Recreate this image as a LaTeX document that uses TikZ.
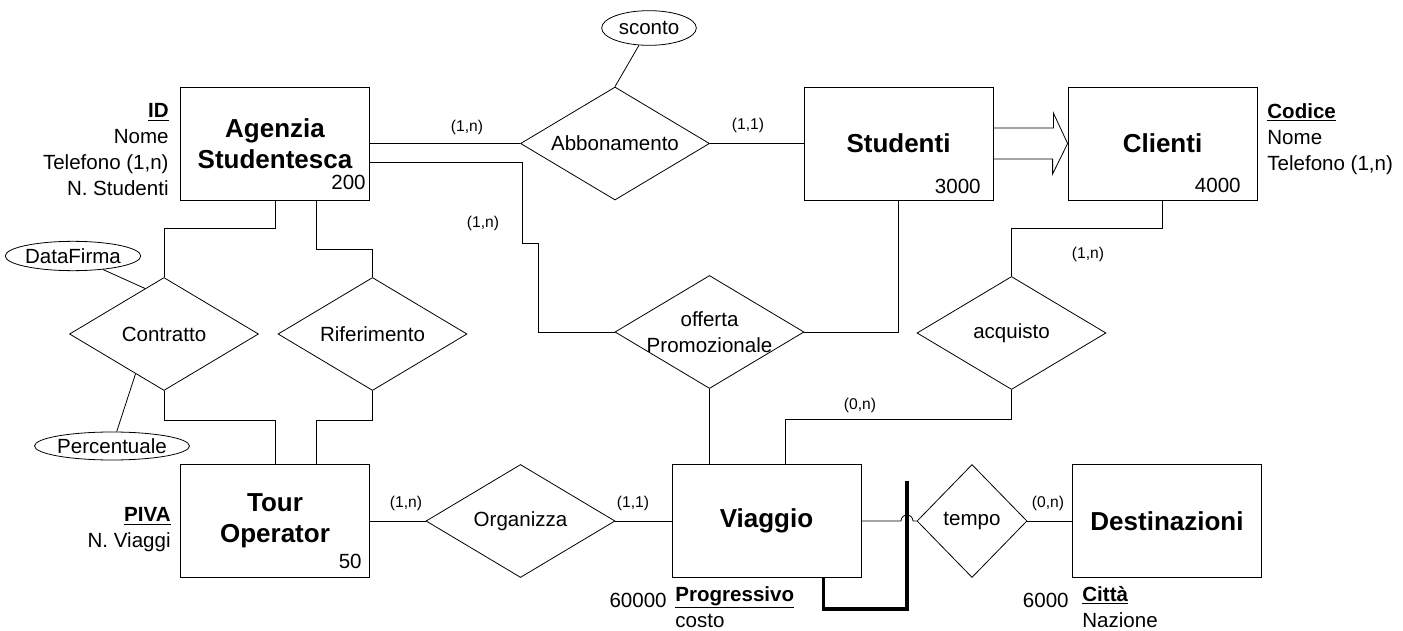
\documentclass[tikz,border=0pt]{standalone}
\usepackage{fontspec}
\setmainfont{Liberation Sans}
\usetikzlibrary{shapes.geometric,calc}

\begin{document}
\begin{tikzpicture}[x=0.75pt,y=0.75pt,yscale=-1,xscale=1,line width=0.6pt,
  entity/.style={draw, rectangle, minimum width=141.75pt, minimum height=84.75pt, inner sep=0pt, align=center, font=\fontsize{19.5}{23.5}\selectfont\bfseries},
  rel/.style={draw, diamond, aspect=1.7, minimum width=141.75pt, minimum height=84.75pt, inner sep=0pt, align=center, font=\fontsize{15.4}{19}\selectfont},
  attr/.style={draw, ellipse, inner sep=0pt, font=\fontsize{15.4}{19}\selectfont},
  txt/.style={inner sep=0pt, font=\fontsize{15.4}{19.5}\selectfont},
  card/.style={inner sep=0pt, font=\fontsize{11.7}{14}\selectfont}]
\useasboundingbox (0,0) rectangle (1403,631);

%Shape: Entities
\node[entity] (agz) at (275,143.5) {Agenzia\\Studentesca};
\node[entity] (stu) at (898.5,143.5) {Studenti};
\node[entity] (cli) at (1162.5,143.5) {Clienti};
\node[entity] (tour) at (275,521) {Tour\\Operator};
\node[entity] (via) at (766.5,521) {Viaggio};
\node[entity] (des) at (1167,521) {Destinazioni};

%Shape: Relationships
\node[rel] (abb) at (615,143.5) {Abbonamento};
\node[rel] (con) at (164,334) {Contratto};
\node[rel] (rif) at (372.5,334) {Riferimento};
\node[rel, label={[txt, align=center]center:offerta\\Promozionale}] (off) at (709.5,332) {};
\node[rel] (acq) at (1011.5,333) {acquisto};
\node[rel] (org) at (520.5,521) {Organizza};
\node[rel, minimum width=82.5pt] (tem) at (972,521) {tempo};

%Shape: Attributes of relationships
\node[attr, minimum width=71pt, minimum height=26pt] (sco) at (649,28) {sconto};
\node[attr, minimum width=95pt, minimum height=22pt] (dat) at (73,256) {DataFirma};
\node[attr, minimum width=114pt, minimum height=21pt] (per) at (112,446) {Percentuale};

%Straight Lines
\draw (agz.east) -- (abb.west) ;
\draw (abb.east) -- (stu.west) ;
\draw (sco) -- (abb.north) ;
\draw ($(agz.east)+(0,19)$) -- ++(152,0) -- ++(0,81) -- ++(16,0) |- (off.west) ;
\draw (off.east) -| (stu.south) ;
\draw (off.south) -- (off.south |- via.north) ;
\draw (agz.south) -- ++(0,28) -| (con.north) ;
\draw ($(agz.south)+(41,0)$) -- ++(0,49) -| (rif.north) ;
\draw (con.south) -- ++(0,29) -| (tour.north) ;
\draw (rif.south) -- ++(0,29) -| ($(tour.north)+(41,0)$) ;
\draw (dat) -- ($(con.north)!0.2!(con.west)$) ;
\draw ($(con.south)!0.3!(con.west)$) -- (per) ;
\draw (tour.east) -- (org.west) ;
\draw (org.east) -- (via.west) ;
\draw (cli.south) -- ++(0,28) -| (acq.north) ;
\draw (acq.south) -- ++(0,29) -| ($(via.north)+(19,0)$) ;
\draw (via.east) -- (901,521) arc[start angle=180, end angle=360, radius=6] -- (tem.west) ;
\draw (tem.east) -- (des.west) ;
%Shape: Generalization arrow
\draw ($(stu.east)+(0,-15.5)$) -- ++(60,0) -- ++(0,-15) -- (cli.west) -- ++(-15,30.5) -- ++(0,-15) -- ($(stu.east)+(0,15.5)$) ;
%Thick Line
\draw [line width=2.4pt] ($(via.south east)+(-38,0)$) -- ++(0,31) -| (907,481) ;

% Text Node
\node[txt, align=right, anchor=east] (agzatt) at (169,150) {\underline{\textbf{ID}}\\Nome\\Telefono (1,n)\\N. Studenti};
% Text Node
\node[txt, align=left, anchor=west] (cliatt) at (1267,139) {\underline{\textbf{Codice}}\\Nome\\Telefono (1,n)};
% Text Node
\node[txt, align=right, anchor=east] (touratt) at (171,530) {\underline{\textbf{PIVA}}\\N. Viaggi};
% Text Node
\node[txt, align=left, anchor=west] (viaatt) at (675,607) {\underline{\textbf{Progressivo}}\\costo};
% Text Node
\node[txt, align=left, anchor=west] (desatt) at (1082,607) {\underline{\textbf{Città}}\\Nazione};
% Text Node
\node[txt, anchor=base east] (n200) at (366,190) {200};
\node[txt, anchor=base east] (n3000) at (981,194) {3000};
\node[txt, anchor=base east] (n4000) at (1241,193) {4000};
\node[txt, anchor=base east] (n50) at (362,568) {50};
\node[txt, anchor=east] (n60000) at (667,600) {60000};
\node[txt, anchor=east] (n6000) at (1069,600) {6000};
% Text Node
\node[card] (c1) at (467,127) {(1,n)};
\node[card] (c2) at (748,125) {(1,1)};
\node[card] (c3) at (483,223) {(1,n)};
\node[card] (c4) at (1088,254) {(1,n)};
\node[card] (c5) at (860,405) {(0,n)};
\node[card] (c6) at (406,503) {(1,n)};
\node[card] (c7) at (633,503) {(1,1)};
\node[card] (c8) at (1048,503) {(0,n)};

\end{tikzpicture}
\end{document}
